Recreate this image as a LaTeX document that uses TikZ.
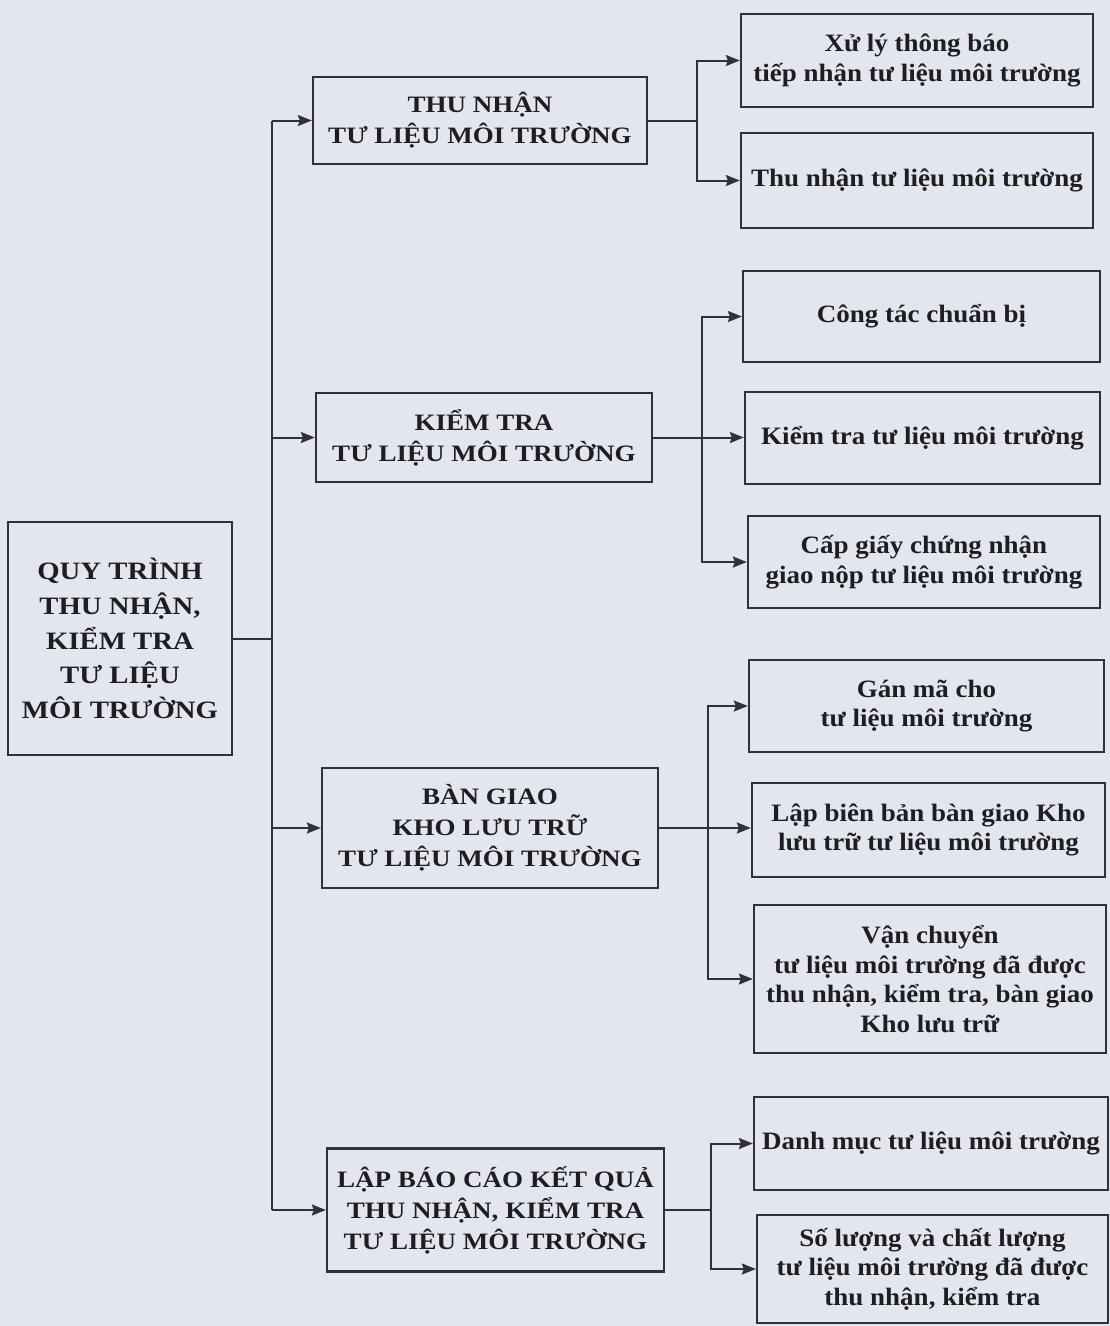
\documentclass[tikz,border=0pt]{standalone}
\usepackage{fontspec}
\setmainfont{Liberation Serif}
\newfontfamily\capfont{Liberation Serif}[FakeStretch=1.15]
\newfontfamily\smfont{Liberation Serif}[FakeStretch=1.08]
\usetikzlibrary{arrows.meta}
\definecolor{bgc}{RGB}{227,230,238}
\definecolor{ink}{RGB}{50,50,54}
\definecolor{txt}{RGB}{30,30,32}
\tikzset{
  box/.style={draw=ink, line width=2.3pt, inner sep=0pt, align=center, text=txt},
  leftbox/.style={box, font=\capfont\bfseries\fontsize{25}{34.7}\selectfont},
  midbox/.style={box, font=\capfont\bfseries\fontsize{23.5}{31}\selectfont},
  rbox/.style={box, font=\smfont\bfseries\fontsize{25}{29.5}\selectfont},
  link/.style={draw=ink, line width=2pt},
  arr/.style={link, -{Stealth[length=14pt,width=11pt,inset=2pt]}}
}
\begin{document}
\begin{tikzpicture}[x=1pt,y=-1pt]
\fill[bgc] (0,0) rectangle (1110,1326);
\useasboundingbox (0,0) rectangle (1110,1326);

% left box
\node[leftbox, minimum width=224pt, minimum height=233pt] (L) at (120,638.5)
  {QUY TRÌNH\\THU NHẬN,\\KIỂM TRA\\TƯ LIỆU\\MÔI TRƯỜNG};

% middle boxes
\node[midbox, minimum width=334pt, minimum height=87pt] (M1) at (480,120.5)
  {THU NHẬN\\TƯ LIỆU MÔI TRƯỜNG};
\node[midbox, minimum width=336pt, minimum height=89pt] (M2) at (484,437.5)
  {KIỂM TRA\\TƯ LIỆU MÔI TRƯỜNG};
\node[midbox, minimum width=336pt, minimum height=120pt] (M3) at (490,828)
  {BÀN GIAO\\KHO LƯU TRỮ\\TƯ LIỆU MÔI TRƯỜNG};
\node[midbox, minimum width=337pt, minimum height=123pt] (M4) at (495.5,1210)
  {LẬP BÁO CÁO KẾT QUẢ\\THU NHẬN, KIỂM TRA\\TƯ LIỆU MÔI TRƯỜNG};

% right boxes
\node[rbox, minimum width=352pt, minimum height=93pt] (R1) at (917,60.5)
  {Xử lý thông báo\\tiếp nhận tư liệu môi trường};
\node[rbox, minimum width=352pt, minimum height=95pt] (R2) at (917,180.5)
  {Thu nhận tư liệu môi trường};
\node[rbox, minimum width=357pt, minimum height=91pt] (R3) at (921.5,316.5)
  {Công tác chuẩn bị};
\node[rbox, minimum width=355pt, minimum height=92pt] (R4) at (922.5,438)
  {Kiểm tra tư liệu môi trường};
\node[rbox, minimum width=352pt, minimum height=92pt] (R5) at (924,562)
  {Cấp giấy chứng nhận\\giao nộp tư liệu môi trường};
\node[rbox, minimum width=355pt, minimum height=92pt] (R6) at (926.5,706)
  {Gán mã cho\\tư liệu môi trường};
\node[rbox, minimum width=353pt, minimum height=94pt] (R7) at (928.5,830)
  {Lập biên bản bàn giao Kho\\lưu trữ tư liệu môi trường};
\node[rbox, minimum width=352pt, minimum height=148pt] (R8) at (930,979)
  {Vận chuyển\\tư liệu môi trường đã được\\thu nhận, kiểm tra, bàn giao\\Kho lưu trữ};
\node[rbox, minimum width=354pt, minimum height=93pt] (R9) at (931,1143.5)
  {Danh mục tư liệu môi trường};
\node[rbox, minimum width=351pt, minimum height=108pt] (R10) at (932.5,1269)
  {Số lượng và chất lượng\\tư liệu môi trường đã được\\thu nhận, kiểm tra};

% trunk
\coordinate (tk) at (272,638.5);
\coordinate (b1) at (697,0);
\coordinate (b2) at (702,0);
\coordinate (b3) at (708,0);
\coordinate (b4) at (711,0);

\draw[link] (L.east) -- (tk);
\draw[link] (M1.west -| tk) -- (M4.west -| tk);
\draw[arr] (M1.west -| tk) -- (M1.west);
\draw[arr] (M2.west -| tk) -- (M2.west);
\draw[arr] (M3.west -| tk) -- (M3.west);
\draw[arr] (M4.west -| tk) -- (M4.west);

% branch 1
\draw[link] (M1.east) -- (M1.east -| b1);
\draw[arr] (M1.east -| b1) |- (R1.west);
\draw[arr] (M1.east -| b1) |- (R2.west);

% branch 2
\draw[arr] (M2.east) -- (M2.east -| R4.west);
\draw[arr] (M2.east -| b2) |- (R3.west);
\draw[arr] (M2.east -| b2) |- (R5.west);

% branch 3
\draw[arr] (M3.east) -- (M3.east -| R7.west);
\draw[arr] (M3.east -| b3) |- (R6.west);
\draw[arr] (M3.east -| b3) |- (R8.west);

% branch 4
\draw[link] (M4.east) -- (M4.east -| b4);
\draw[arr] (M4.east -| b4) |- (R9.west);
\draw[arr] (M4.east -| b4) |- (R10.west);
\end{tikzpicture}
\end{document}
